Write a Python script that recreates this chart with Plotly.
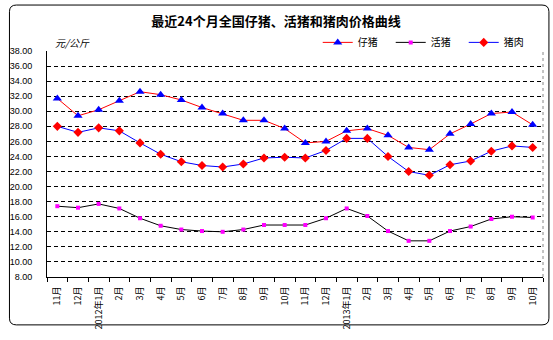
import plotly.graph_objects as go

# Monthly prices, Nov 2011 - Oct 2013 (yuan / kg)
months = ["11月", "12月", "2012年1月", "2月", "3月", "4月", "5月", "6月", "7月", "8月", "9月", "10月",
          "11月", "12月", "2013年1月", "2月", "3月", "4月", "5月", "6月", "7月", "8月", "9月", "10月"]
piglet = [31.7, 29.4, 30.2, 31.4, 32.6, 32.2, 31.5, 30.5, 29.7, 28.8, 28.8, 27.7,
          25.8, 26.0, 27.4, 27.7, 26.8, 25.2, 24.9, 27.0, 28.3, 29.7, 29.9, 28.2]
live_hog = [17.4, 17.2, 17.7, 17.1, 15.8, 14.8, 14.3, 14.1, 14.0, 14.3, 14.9, 14.9,
            14.9, 15.8, 17.1, 16.1, 14.1, 12.8, 12.8, 14.1, 14.7, 15.7, 16.0, 15.9]
pork = [28.0, 27.2, 27.8, 27.4, 25.8, 24.3, 23.3, 22.8, 22.6, 23.0, 23.8, 23.9,
        23.8, 24.8, 26.4, 26.4, 24.0, 22.0, 21.5, 22.9, 23.4, 24.7, 25.4, 25.2]
series_names = ["仔猪", "活猪", "猪肉"]

W, H = 553, 340
L, R, T, B = 41, 543, 51, 287  # plot area in pixels

def px(x):
    return (x - L) / (R - L)

def py(y):
    return (B - y) / (B - T)

CJK = "Noto Sans CJK SC"
NUM = "Liberation Sans"

x = list(range(len(months)))

fig = go.Figure()
fig.add_trace(go.Scatter(
    x=x, y=piglet, name=series_names[0], mode="lines+markers",
    line=dict(color="#ff0000", width=1),
    marker=dict(symbol="triangle-up", size=8, color="#0000ff"),
))
fig.add_trace(go.Scatter(
    x=x, y=live_hog, name=series_names[1], mode="lines+markers",
    line=dict(color="#000000", width=1),
    marker=dict(symbol="square", size=4, color="#ff00ff"),
))
fig.add_trace(go.Scatter(
    x=x, y=pork, name=series_names[2], mode="lines+markers",
    line=dict(color="#0000ff", width=1),
    marker=dict(symbol="diamond", size=7, color="#ff0000"),
))

# rounded outer frame
x0, y0, x1, y1, r = 3, 3, 549, 337, 7
frame = (f"M {px(x0 + r)},{py(y0)} L {px(x1 - r)},{py(y0)} "
         f"Q {px(x1)},{py(y0)} {px(x1)},{py(y0 + r)} "
         f"L {px(x1)},{py(y1 - r)} Q {px(x1)},{py(y1)} {px(x1 - r)},{py(y1)} "
         f"L {px(x0 + r)},{py(y1)} Q {px(x0)},{py(y1)} {px(x0)},{py(y1 - r)} "
         f"L {px(x0)},{py(y0 + r)} Q {px(x0)},{py(y0)} {px(x0 + r)},{py(y0)} Z")

fig.update_layout(
    width=W, height=H,
    margin=dict(l=L, r=W - R, t=T, b=H - B),
    paper_bgcolor="white", plot_bgcolor="white",
    showlegend=True,
    title=dict(
        text="<b>最近24个月全国仔猪、活猪和猪肉价格曲线</b>",
        x=276 / W, xanchor="center", y=1 - 21 / H, yanchor="middle",
        font=dict(family=CJK, size=13, color="black"),
    ),
    legend=dict(
        orientation="h", x=px(315), xanchor="left", y=py(42), yanchor="middle",
        font=dict(family=CJK, size=10, color="black"),
        bgcolor="rgba(0,0,0,0)", itemwidth=30, entrywidth=28, entrywidthmode="pixels",
        tracegroupgap=0, traceorder="normal",
    ),
    xaxis=dict(
        range=[-0.5, len(months) - 0.5],
        tickmode="array", tickvals=x, ticktext=months, tickangle=-90,
        tickfont=dict(family=CJK, size=9, color="black"),
        showgrid=False, zeroline=False,
        showline=True, linecolor="black", linewidth=1,
        ticks="outside", ticklen=5, tickcolor="rgba(0,0,0,0)",
        minor=dict(ticks="outside", ticklen=4, tickcolor="black", tick0=-0.5, dtick=1, showgrid=False),
    ),
    yaxis=dict(
        range=[8, 38], dtick=2, tick0=8, tickformat=".2f",
        tickfont=dict(family=NUM, size=9, color="black"),
        showgrid=True, gridcolor="black", gridwidth=1, griddash="4px,3px",
        zeroline=False, showline=True, linecolor="black", linewidth=1,
        ticks="", ticklabelstandoff=12,
    ),
    annotations=[
        dict(text="元/公斤", x=px(47), y=py(42), xref="paper", yref="paper",
             xanchor="left", yanchor="middle", showarrow=False,
             font=dict(family=CJK, size=10, color="black", style="italic")),
    ],
    shapes=[
        dict(type="line", xref="paper", yref="paper", x0=1, x1=1, y0=0, y1=1,
             line=dict(color="#888888", width=1, dash="dot")),
        dict(type="path", xref="paper", yref="paper", path=frame,
             line=dict(color="black", width=1), layer="above"),
    ],
)

fig.write_html("out.html")
